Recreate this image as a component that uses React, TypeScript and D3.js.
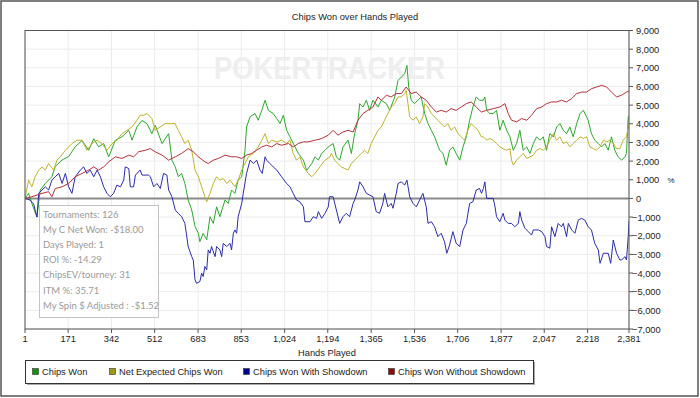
import React from 'react';
import * as d3 from 'd3';

// hands played, chips
const chipsWon: [number, number][] = [
  [1, 0], [15, 270], [28, -270], [48, -1000], [61, 450], [81, 800], [107, 1160], [120, 1700], [147, 2060], [173, 2240],
  [199, 2770], [226, 3100], [252, 2580], [272, 3200], [291, 2770], [311, 2940], [331, 2230], [357, 3120], [383, 3300],
  [410, 3650], [423, 3120], [442, 3830], [462, 4180], [482, 4000], [501, 3470], [514, 3920], [541, 2940], [567, 3470],
  [580, 2050], [593, 1690], [605, 1160], [618, 1340], [631, 800], [644, -90], [658, -620], [671, -1500], [684, -1870],
  [690, -2320], [703, -1870], [717, -2230], [730, -980], [743, -1340], [756, -450], [769, -980], [789, -90], [802, -270],
  [815, 450], [828, 270], [841, 980], [855, 1160], [868, 2580], [874, 3830], [888, 4370], [907, 4550], [920, 4190],
  [934, 4720], [947, 5260], [960, 4720], [979, 4550], [993, 4280], [1006, 4010], [1019, 4460], [1032, 3650], [1045, 3300],
  [1065, 2760], [1078, 2410], [1098, 2050], [1111, 1500], [1131, 1870], [1144, 2230], [1157, 2050], [1170, 2410],
  [1183, 2580], [1196, 2760], [1215, 2940], [1228, 2230], [1241, 2050], [1254, 2760], [1274, 3120], [1287, 2410],
  [1300, 3470], [1313, 4190], [1320, 5080], [1333, 4900], [1346, 5260], [1359, 4720], [1372, 5260], [1392, 4900],
  [1405, 5260], [1425, 5080], [1438, 4720], [1458, 5440], [1471, 6330], [1484, 6510], [1497, 6680], [1506, 7130],
  [1513, 5970], [1523, 5260], [1536, 5080], [1549, 5260], [1562, 5440], [1576, 4550], [1589, 4010], [1602, 3650],
  [1615, 3300], [1635, 2580], [1648, 2410], [1661, 1780], [1674, 2580], [1687, 2760], [1700, 2410], [1714, 2050],
  [1727, 2760], [1740, 3300], [1753, 4190], [1766, 4900], [1779, 5440], [1792, 5260], [1807, 5260], [1813, 5440],
  [1820, 4720], [1833, 4550], [1846, 4550], [1859, 4720], [1872, 3650], [1885, 4190], [1899, 3650], [1912, 3300],
  [1925, 2580], [1938, 2940], [1951, 3650], [1964, 2580], [1978, 2760], [1991, 2410], [2004, 2940], [2017, 3300],
  [2030, 3120], [2043, 3300], [2056, 2580], [2069, 3470], [2083, 3300], [2096, 3830], [2109, 4010], [2122, 3650],
  [2135, 3470], [2148, 3830], [2161, 3300], [2175, 4010], [2188, 4550], [2201, 4720], [2214, 4370], [2220, 4190],
  [2233, 3470], [2246, 3120], [2260, 2940], [2273, 2760], [2286, 2940], [2299, 2580], [2312, 3300], [2325, 2580],
  [2338, 2230], [2352, 2050], [2365, 2230], [2371, 2410], [2378, 4370], [2381, 4400],
];

const netExpected: [number, number][] = [
  [1, 0], [15, 980], [28, 620], [41, 1160], [55, 1520], [68, 1690], [81, 1520], [94, 1870], [114, 1520], [127, 2050],
  [140, 2230], [160, 2580], [186, 2940], [206, 3120], [226, 3120], [245, 2580], [265, 2940], [285, 3120], [304, 2940],
  [324, 2580], [344, 2940], [363, 3120], [383, 3470], [403, 3650], [423, 3830], [442, 4190], [455, 4460], [469, 4460],
  [482, 4550], [501, 4280], [514, 3650], [534, 3830], [554, 4010], [573, 4010], [592, 4010], [605, 3650], [618, 3300],
  [631, 2940], [644, 3120], [658, 2580], [671, 1520], [684, 1160], [697, 620], [710, 90], [717, -180], [730, 270],
  [743, 800], [756, 1160], [769, 980], [782, 1070], [796, 800], [809, 980], [828, 620], [841, 980], [855, 1520],
  [868, 1870], [881, 2230], [900, 2410], [920, 2760], [934, 3120], [947, 3470], [960, 2940], [973, 3120], [993, 3030],
  [1012, 3120], [1032, 2940], [1045, 3120], [1058, 2410], [1071, 2050], [1084, 2230], [1098, 1690], [1117, 1340],
  [1131, 1160], [1144, 1340], [1163, 1690], [1183, 2050], [1203, 2230], [1208, 2410], [1221, 2050], [1234, 1870],
  [1247, 1690], [1261, 1600], [1274, 1520], [1287, 1870], [1300, 2050], [1313, 2230], [1326, 2410], [1339, 2580],
  [1352, 2410], [1365, 2940], [1379, 3300], [1392, 3650], [1405, 3830], [1418, 4190], [1431, 4550], [1444, 4900],
  [1458, 5080], [1471, 5440], [1484, 5440], [1497, 5620], [1503, 5790], [1510, 5080], [1517, 4370], [1530, 4190],
  [1543, 4370], [1556, 4010], [1569, 4370], [1576, 5080], [1589, 4900], [1602, 4550], [1615, 4370], [1628, 4190],
  [1641, 4010], [1654, 3830], [1667, 4010], [1680, 3650], [1694, 3830], [1707, 3470], [1720, 3300], [1733, 3120],
  [1746, 3650], [1759, 4010], [1773, 3830], [1786, 3650], [1799, 3300], [1807, 3300], [1820, 3120], [1833, 3210],
  [1846, 3120], [1859, 2940], [1872, 2760], [1885, 2670], [1899, 2580], [1912, 2670], [1918, 2050], [1925, 1780],
  [1938, 2050], [1951, 2230], [1964, 2410], [1978, 2140], [1991, 2230], [2004, 2320], [2017, 2580], [2030, 2670],
  [2043, 2580], [2056, 2760], [2069, 3120], [2083, 3470], [2096, 3120], [2109, 3300], [2122, 2940], [2135, 3030],
  [2148, 2760], [2161, 2940], [2175, 3120], [2188, 3300], [2201, 3210], [2214, 3300], [2227, 2760], [2240, 2670],
  [2253, 2580], [2267, 2760], [2280, 3120], [2293, 3030], [2306, 3120], [2319, 2940], [2332, 2670], [2345, 2670],
  [2358, 3120], [2371, 3300], [2378, 3830], [2381, 4000],
];

const withShowdown: [number, number][] = [
  [1, 0], [21, -90], [35, -300], [48, -1000], [55, 270], [68, 450], [81, 620], [94, 450], [107, 980], [120, 1160],
  [134, 1340], [147, 800], [160, 1340], [173, 620], [186, 270], [199, 1160], [219, 1520], [232, 1690], [245, 1340],
  [258, 1520], [272, 1160], [285, 1520], [298, 1160], [311, 620], [324, 270], [337, 90], [350, 270], [363, 710],
  [377, 620], [390, 980], [396, 1690], [410, 1600], [416, 620], [429, 620], [436, 1250], [455, 1520], [462, 1250],
  [488, 1250], [495, 1160], [508, 620], [521, 800], [534, 530], [547, 1340], [560, 1250], [567, 450], [580, 90],
  [593, -620], [605, -800], [618, -980], [631, -1340], [644, -2580], [658, -3120], [664, -3300], [671, -4370],
  [677, -4550], [690, -4460], [697, -4010], [703, -4190], [710, -3650], [717, -3830], [723, -2760], [730, -2940],
  [736, -2580], [750, -3120], [756, -2580], [769, -2760], [776, -3120], [782, -2410], [796, -2580], [809, -2410],
  [815, -2760], [822, -1870], [828, -1690], [835, -1870], [841, -980], [855, -270], [861, 270], [874, 1340], [888, 2050],
  [901, 1870], [914, 2050], [927, 1520], [936, 1340], [947, 2230], [953, 2050], [966, 1870], [979, 1690], [993, 1520],
  [1012, 1160], [1032, 800], [1045, 620], [1058, 270], [1071, -90], [1084, -180], [1098, -450], [1104, -1250],
  [1124, -1250], [1137, -980], [1150, -1070], [1157, -710], [1170, -1070], [1183, -800], [1196, -450], [1201, 90],
  [1215, 90], [1228, -620], [1241, -1340], [1254, -980], [1267, -800], [1280, -980], [1294, -270], [1300, -90],
  [1313, 450], [1320, 890], [1333, 620], [1346, 270], [1359, 180], [1372, 90], [1385, -710], [1398, -800], [1411, -270],
  [1418, 270], [1431, -450], [1444, -270], [1451, -530], [1464, 270], [1471, 800], [1484, 890], [1497, 710], [1506, 980],
  [1517, 90], [1530, -270], [1543, -450], [1556, -90], [1569, 270], [1582, -450], [1589, -1340], [1602, -1250],
  [1615, -1520], [1628, -2050], [1641, -1870], [1654, -2320], [1663, -2940], [1674, -2500], [1687, -1780], [1700, -2410],
  [1714, -2580], [1727, -1690], [1740, -1340], [1753, -270], [1766, -180], [1779, 450], [1792, 530], [1800, 270],
  [1807, 530], [1813, 890], [1820, 0], [1846, 0], [1853, -450], [1859, -980], [1872, -1250], [1885, -800], [1892, -1160],
  [1905, -1340], [1918, -1340], [1931, -1520], [1945, -1340], [1951, -710], [1958, -1160], [1971, -1600], [1984, -1780],
  [1997, -1960], [2004, -1690], [2024, -1690], [2037, -1780], [2050, -2050], [2056, -2580], [2069, -2670], [2076, -1520],
  [2089, -2050], [2102, -1340], [2115, -1520], [2122, -1340], [2135, -2050], [2142, -1340], [2155, -1690], [2168, -1870],
  [2181, -1160], [2194, -1070], [2207, -1160], [2220, -1520], [2233, -1690], [2246, -2410], [2260, -2760], [2267, -3480],
  [2280, -2940], [2299, -2940], [2309, -3480], [2319, -2230], [2332, -2940], [2345, -3300], [2352, -3300], [2365, -3120],
  [2371, -3300], [2378, -2050], [2381, -1200],
];

const withoutShowdown: [number, number][] = [
  [1, 0], [28, 90], [68, 270], [94, 360], [107, 90], [120, 530], [147, 620], [173, 800], [199, 1160], [226, 1340],
  [252, 1520], [272, 1690], [291, 1520], [311, 1690], [331, 1960], [357, 2230], [383, 2140], [410, 2320], [429, 2230],
  [449, 2500], [475, 2580], [495, 2670], [514, 2500], [541, 2320], [567, 2050], [593, 2230], [618, 2410], [644, 2670],
  [664, 2500], [684, 2230], [710, 1960], [723, 1870], [743, 2050], [763, 2140], [789, 2320], [815, 2230], [835, 2230],
  [855, 2140], [874, 2320], [894, 2410], [914, 2580], [934, 2760], [953, 2850], [973, 2760], [993, 2940], [1012, 2850],
  [1039, 2940], [1058, 2760], [1078, 2940], [1098, 3030], [1117, 3030], [1144, 3120], [1170, 3210], [1196, 3390],
  [1215, 3650], [1234, 3390], [1254, 3560], [1274, 3650], [1294, 3560], [1313, 4190], [1333, 4550], [1352, 4720],
  [1372, 4900], [1392, 5440], [1405, 5260], [1425, 5530], [1444, 5440], [1464, 5620], [1484, 5620], [1503, 5970],
  [1523, 5620], [1543, 5700], [1562, 5440], [1582, 5260], [1602, 4900], [1622, 4630], [1641, 4720], [1661, 4630],
  [1680, 4810], [1700, 4720], [1720, 4900], [1740, 5080], [1759, 5170], [1779, 4900], [1799, 4630], [1820, 4720],
  [1846, 4810], [1872, 4900], [1892, 5080], [1905, 4550], [1918, 4190], [1938, 4100], [1958, 4280], [1978, 4190],
  [1997, 4460], [2017, 4810], [2037, 4900], [2056, 5080], [2076, 5170], [2096, 5170], [2115, 5260], [2135, 5170],
  [2155, 5350], [2175, 5620], [2194, 5700], [2214, 5700], [2233, 5880], [2253, 5970], [2273, 6060], [2293, 5970],
  [2312, 5700], [2332, 5440], [2352, 5530], [2371, 5700], [2381, 5750],
];

const xTicks = [1, 171, 342, 512, 683, 853, 1024, 1194, 1365, 1536, 1706, 1877, 2047, 2218, 2381];
const yTicks = d3.range(-7000, 9001, 1000);

const seriesNames = ['Chips Won', 'Net Expected Chips Won', 'Chips Won With Showdown', 'Chips Won Without Showdown'];
const infoLines = [
  'Tournaments: 126',
  'My C Net Won: -$18.00',
  'Days Played: 1',
  'ROI %: -14.29',
  'ChipsEV/tourney: 31',
  'ITM %: 35.71',
  'My Spin $ Adjusted : -$1.52',
];

const series = [
  { name: seriesNames[0], data: chipsWon, color: '#2ca62c', swatch: '#139013' },
  { name: seriesNames[1], data: netExpected, color: '#bdb22c', swatch: '#9c9a14' },
  { name: seriesNames[2], data: withShowdown, color: '#2b2bab', swatch: '#000090' },
  { name: seriesNames[3], data: withoutShowdown, color: '#b3303a', swatch: '#8a0c0c' },
];

const legendX = [32, 109, 243, 388];

const W = 700, H = 398;
const left = 25, right = 629, top = 30.5, bottom = 329;
const font = '"Liberation Sans", Arial, sans-serif';

export default function App() {
  const x = d3.scaleLinear().domain([1, 2381]).range([left, right]);
  const y = d3.scaleLinear().domain([-7000, 9000]).range([bottom, top]);
  const fmt = d3.format(',');
  const line = d3.line<[number, number]>().x(d => x(d[0])).y(d => y(d[1]));

  return (
    <svg width={W} height={H} style={{ position: 'absolute', left: 0, top: 0, display: 'block' }} fontFamily={font}>
      <rect x={0} y={0} width={W} height={H} fill="#fff" />
      <rect x={1} y={1} width={697} height={395} fill="none" stroke="#555" strokeWidth={1.5} />

      <text x={355} y={20} fontSize={9.3} textAnchor="middle" fill="#222">Chips Won over Hands Played</text>

      <defs>
        <clipPath id="plot">
          <rect x={left} y={top} width={right - left} height={bottom - top} />
        </clipPath>
      </defs>

      {/* grid */}
      {xTicks.map(t => (
        <line key={'gx' + t} x1={x(t)} x2={x(t)} y1={top} y2={bottom} stroke="#ebebeb" />
      ))}
      {yTicks.map(t => (
        <line key={'gy' + t} x1={left} x2={right} y1={y(t)} y2={y(t)} stroke="#ebebeb" />
      ))}

      <text x={214} y={79} fontSize={31} fontWeight="bold" fill="#eeeeee" textLength={231} lengthAdjust="spacingAndGlyphs">
        POKERTRACKER
      </text>

      <line x1={left} x2={right} y1={y(0)} y2={y(0)} stroke="#8a8a8a" strokeWidth={2} />

      <g clipPath="url(#plot)">
        {series.map(s => (
          <path key={s.name} d={line(s.data) || ''} fill="none" stroke={s.color} strokeWidth={1} />
        ))}
      </g>

      {/* frame */}
      <rect x={left} y={top} width={right - left} height={bottom - top} fill="none" stroke="#555" />

      {/* x axis */}
      {xTicks.map(t => (
        <g key={'xt' + t}>
          <line x1={x(t)} x2={x(t)} y1={bottom} y2={bottom + 4} stroke="#555" />
          <text x={x(t)} y={342} fontSize={9.3} textAnchor="middle" fill="#222">{fmt(t)}</text>
        </g>
      ))}
      <text x={327} y={356} fontSize={9.3} textAnchor="middle" fill="#222">Hands Played</text>

      {/* y axis (right) */}
      {yTicks.map(t => (
        <g key={'yt' + t}>
          <line x1={right} x2={right + 4} y1={y(t)} y2={y(t)} stroke="#555" />
          <text x={t < 0 ? 632 : 636} y={y(t) + 3.5} fontSize={9.3} fill="#222">{fmt(t)}</text>
        </g>
      ))}
      <text x={671} y={183} fontSize={8} textAnchor="middle" fill="#222">%</text>

      {/* info box */}
      <rect x={39.5} y={205.5} width={119} height={112} fill="#fff" fillOpacity={0.85} stroke="#c4c4c4" />
      {infoLines.map((t, i) => (
        <text key={t} x={43} y={217.5 + i * 15.2} fontSize={9.5} fill="#9a9a9a" fontFamily="Lato, sans-serif">{t}</text>
      ))}

      {/* legend */}
      <rect x={27} y={362} width={508} height={23} fill="#aaa" />
      <rect x={25.5} y={360.5} width={508} height={23} fill="#fff" stroke="#333" />
      {series.map((s, i) => (
        <g key={'lg' + s.name}>
          <rect x={legendX[i] + 0.5} y={368.5} width={6} height={6} fill={s.swatch} stroke="#333" strokeWidth={0.6} />
          <text x={legendX[i] + 10} y={375} fontSize={9.3} fill="#222">{s.name}</text>
        </g>
      ))}
    </svg>
  );
}
